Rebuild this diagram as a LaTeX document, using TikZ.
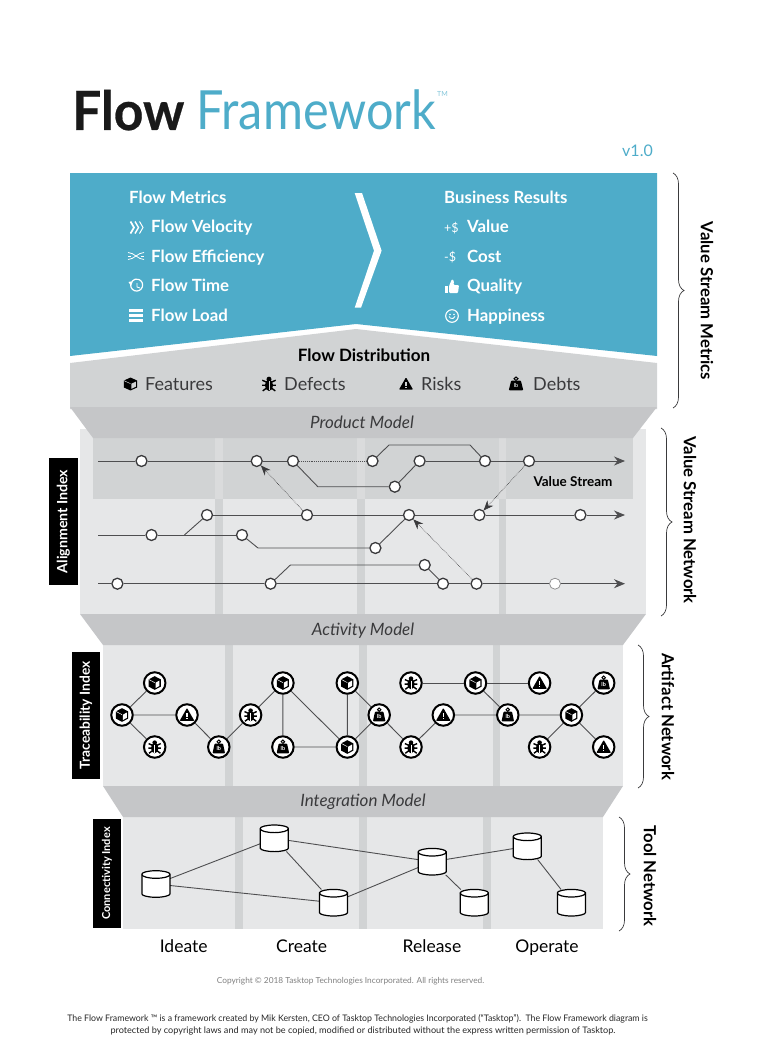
\documentclass[tikz,border=0pt]{standalone}
\usepackage{fontspec}
\setmainfont{Lato}
\newfontfamily\heavyfont[BoldFeatures={FakeBold=.5}]{Lato}
\usetikzlibrary{arrows.meta, decorations.pathreplacing}

\definecolor{flowblue}{HTML}{4EACC9}
\definecolor{panelgrey}{HTML}{D1D3D4}
\definecolor{modelgrey}{HTML}{C5C6C8}
\definecolor{lightgrey}{HTML}{E6E7E8}
\definecolor{inkgrey}{HTML}{3A3A3C}
\colorlet{iconback}{white}

\tikzset{
  % icons, all drawn round (0,0) in the current colour
  cubeicon/.pic={
    \fill (0,-7.2) -- (6.4,-3.8) -- (6.4,3.8) -- (0,7.2) -- (-6.4,3.8) -- (-6.4,-3.8) -- cycle;
    \fill[iconback] (0.9,-0.3) -- (5,-2.6) -- (5,3) -- (0.9,5.3) -- cycle;
    \draw[iconback, line width=.5pt] (-6.4,-3.8) -- (0,-0.4);
  },
  bugicon/.pic={
    \fill (0,1.2) ellipse (3.9 and 5.4);
    \fill (0,-4.6) circle (2.4);
    \draw[line width=1.4pt] (-6.4,-3.6) -- (-2,-1.6) (6.4,-3.6) -- (2,-1.6)
      (-6.6,1.2) -- (6.6,1.2) (-6,6.6) -- (-2,3.6) (6,6.6) -- (2,3.6);
    \draw[iconback, line width=.5pt] (0,-2.6) -- (0,6);
  },
  riskicon/.pic={
    \fill[rounded corners=.8pt] (0,-7.4) -- (7.8,6.2) -- (-7.8,6.2) -- cycle;
    \draw[iconback, line width=1.1pt] (0,-2) -- (0,2.2) (0,3.4) -- (0,4.6);
  },
  debticon/.pic={
    \draw[line width=1pt] (0,-5.6) circle (1.8);
    \fill[rounded corners=.8pt] (-4.4,-3.6) -- (4.4,-3.6) -- (6.6,6.6) -- (-6.6,6.6) -- cycle;
    \node[text=iconback, inner sep=0pt, font=\fontsize{5.5}{5.5}\selectfont\bfseries] (lbtext) at (0,1.8) {lb};
  },
  drumicon/.pic={
    \filldraw[fill=white, draw=black, line width=1.2pt, rounded corners=.5pt] (-14,-9.5)
      arc[start angle=180, end angle=360, x radius=14, y radius=3.8] -- (14,9.5)
      arc[start angle=0, end angle=180, x radius=14, y radius=3.8] -- cycle;
    \draw[black, line width=1.2pt] (14,-9.5) arc[start angle=0, end angle=180, x radius=14, y radius=3.8];
  },
  % nodes
  flownode/.style={circle, draw=inkgrey, fill=white, line width=1.3pt, minimum size=11pt, inner sep=0pt},
  artnode/.style={circle, draw=black, fill=white, line width=2pt, minimum size=21.5pt, inner sep=0pt},
  cubenode/.style={artnode, path picture={\pic[black, scale=.95] at (path picture bounding box.center) {cubeicon};}},
  bugnode/.style={artnode, path picture={\pic[black, scale=.95] at (path picture bounding box.center) {bugicon};}},
  risknode/.style={artnode, path picture={\pic[black, scale=.95] at (path picture bounding box.center) {riskicon};}},
  debtnode/.style={artnode, path picture={\pic[black, scale=.95] at (path picture bounding box.center) {debticon};}},
  toolnode/.style={rectangle, minimum width=28pt, minimum height=26pt, inner sep=0pt},
  % connectors
  wire/.style={draw=inkgrey!90, line width=.9pt},
  flowline/.style={wire, -{Stealth[length=11pt,width=9pt]}},
  dep/.style={draw=inkgrey, densely dotted, line width=.6pt, -{Stealth[length=10pt,width=8pt]}},
  bracket/.style={draw=inkgrey, line width=.7pt, decorate, decoration={brace, amplitude=11pt}},
  % text
  metrictext/.style={anchor=base west, inner sep=0pt, text=white, font=\fontsize{16.8}{16.8}\selectfont\bfseries},
  disttext/.style={anchor=base west, inner sep=0pt, text=inkgrey, font=\fontsize{18}{18}\selectfont},
  modeltext/.style={anchor=base, inner sep=0pt, text=inkgrey, font=\fontsize{17}{17}\selectfont\itshape},
  stagetext/.style={anchor=base, inner sep=0pt, text=black, font=\fontsize{17.5}{17.5}\selectfont},
  indexbox/.style={fill=black, text=white, rotate=90, inner sep=0pt, font=\bfseries},
  sidetext/.style={rotate=270, inner sep=0pt, text=black, font=\fontsize{16.7}{16.7}\selectfont\bfseries},
}

\begin{document}
\begin{tikzpicture}[x=1pt, y=-1pt]
  \useasboundingbox (0,0) rectangle (768,1062);

  % title
  \node[anchor=base west, inner sep=0pt, xscale=.955, text=black!90, font=\fontsize{54}{54}\selectfont\heavyfont\bfseries] at (72,130) (flowword) {Flow};
  \node[anchor=base west, inner sep=0pt, xscale=.9, text=flowblue, font=\fontsize{54}{54}\selectfont] at (196,130) (frameword) {Framework};
  \node[anchor=west, inner sep=0pt, text=flowblue!70, font=\fontsize{7}{7}\selectfont] at (437,94) (trademark) {TM};
  \node[anchor=base east, inner sep=0pt, text=flowblue, font=\fontsize{16}{16}\selectfont] at (653,156) (version) {v1.0};

  % panels
  \fill[flowblue] (70,173) -- (657,173) -- (657,356) -- (356,324) -- (70,356) -- cycle;
  \fill[white] (354.7,193) -- (362,193) -- (381.6,250.7) -- (361,307.7) -- (354.7,307.7) -- (374,250.7) -- cycle;
  \fill[panelgrey] (70,363) -- (356,329) -- (657,363) -- (657,409) -- (70,409) -- cycle;

  \fill[lightgrey] (80,429) rectangle (646,614);
  \fill[panelgrey] (215,499) rectangle (223,614);
  \fill[panelgrey] (357,499) rectangle (365,614);
  \fill[panelgrey] (499,499) rectangle (506,614);
  \fill[panelgrey] (93,438) rectangle (633,499);
  \fill[lightgrey!40!panelgrey] (215,438) rectangle (223,499);
  \fill[lightgrey!40!panelgrey] (357,438) rectangle (365,499);
  \fill[lightgrey!40!panelgrey] (499,438) rectangle (506,499);

  \fill[lightgrey] (103,645) rectangle (623,786);
  \fill[panelgrey] (225,645) rectangle (233,786);
  \fill[panelgrey] (359,645) rectangle (366.5,786);
  \fill[panelgrey] (493,645) rectangle (500,786);

  \fill[lightgrey] (123,817) rectangle (603,929);
  \fill[panelgrey] (235,817) rectangle (242.5,929);
  \fill[panelgrey] (359,817) rectangle (366.5,929);
  \fill[panelgrey] (482.5,817) rectangle (490.5,929);

  \fill[modelgrey] (70,407) -- (657,407) -- (633,438) -- (93,438) -- cycle;
  \fill[modelgrey] (80,614) -- (646,614) -- (623,645) -- (103,645) -- cycle;
  \fill[modelgrey] (103,786) -- (623,786) -- (603,817) -- (123,817) -- cycle;

  \node[modeltext] at (362,428.5) (productmodel) {Product Model};
  \node[modeltext] at (363,635) (activitymodel) {Activity Model};
  \node[modeltext] at (363,806.5) (integrationmodel) {Integration Model};

  % metrics
  \node[metrictext] at (129,203) (flowmetrics) {Flow Metrics};
  \node[metrictext] at (151,232.5) (flowvelocity) {Flow Velocity};
  \node[metrictext] at (151,262) (flowefficiency) {Flow Efficiency};
  \node[metrictext] at (151,291.5) (flowtime) {Flow Time};
  \node[metrictext] at (151,321) (flowload) {Flow Load};
  \node[metrictext] at (444,203) (businessresults) {Business Results};
  \node[metrictext] at (467,232.5) (value) {Value};
  \node[metrictext] at (467,262) (cost) {Cost};
  \node[metrictext] at (467,291.5) (quality) {Quality};
  \node[metrictext] at (467,321) (happiness) {Happiness};
  \node[metrictext, font=\fontsize{12.5}{12.5}\selectfont] at (444,232) (plusdollar) {+\$};
  \node[metrictext, font=\fontsize{12.5}{12.5}\selectfont] at (444,261.5) (minusdollar) {-\$};

  % metric icons
  \draw[white, line width=1.7pt] (130.5,221.5) -- (134,227.5) -- (130.5,233.5);
  \draw[white, line width=1.4pt] (135,221.5) -- (138.5,227.5) -- (135,233.5);
  \draw[white, line width=1pt] (139.5,221.5) -- (143,227.5) -- (139.5,233.5);
  \draw[white, line width=.8pt] (128,252.5) .. controls (134,252.5) and (138,259.5) .. (144,259.5);
  \draw[white, line width=.8pt] (128,259.5) .. controls (134,259.5) and (138,252.5) .. (144,252.5);
  \draw[white, line width=.8pt] (128,256) -- (131,256) (141,256) -- (144,256);
  \draw[white, line width=1.2pt] (131,283) arc[start angle=200, end angle=-140, radius=6];
  \draw[white, line width=.9pt] (137,283) -- (137,287) -- (140,288);
  \fill[white] (128.5,282) -- (133,281) -- (131,286) -- cycle;
  \fill[white] (129,309) rectangle (143,312.4);
  \fill[white] (129,313.8) rectangle (143,317.2);
  \fill[white] (129,318.6) rectangle (143,322);
  \fill[white] (444.5,286) rectangle (448,293);
  \fill[white, rounded corners=1pt] (449,286) -- (452,279) -- (454,281) -- (453.5,285) -- (459,285) -- (458,293) -- (449,293) -- cycle;
  \draw[white, line width=1.1pt] (452,316) circle (6.3);
  \fill[white] (450,314.5) circle (.9) (454,314.5) circle (.9);
  \draw[white, line width=.8pt] (449,316.5) arc[start angle=160, end angle=20, radius=3.2];

  % flow distribution
  \node[anchor=base, inner sep=0pt, text=black, font=\fontsize{17}{17}\selectfont\bfseries] at (364,361.5) (flowdistribution) {Flow Distribution};
  \node[disttext] at (145,390) (features) {Features};
  \node[disttext] at (284,390) (defects) {Defects};
  \node[disttext] at (421,390) (risks) {Risks};
  \node[disttext] at (533,390) (debts) {Debts};
  \begin{scope}
    \colorlet{iconback}{panelgrey}
    \pic[black, xscale=1.05, yscale=.9] at (130.5,384) {cubeicon};
    \pic[black, scale=1.05] at (269,384) {bugicon};
    \pic[black, scale=.9] at (406,384) {riskicon};
    \pic[black, xscale=1.1, yscale=.95] at (516,384) {debticon};
  \end{scope}

  % value stream network
  \coordinate (rowastart) at (98,461);
  \coordinate (rowaend) at (625,461);
  \node[flownode] at (141.5,461) (a1) {};
  \node[flownode] at (256.7,461) (a2) {};
  \node[flownode] at (293,461) (a3) {};
  \node[flownode] at (372.5,461) (a4) {};
  \node[flownode] at (419.6,461) (a5) {};
  \node[flownode] at (485,461) (a6) {};
  \node[flownode] at (529,461) (a7) {};
  \node[flownode] at (394.8,486.7) (a8) {};
  \draw[wire] (rowastart) -- (a1) -- (a2) -- (a3);
  \draw[wire, densely dotted, line width=.5pt] (a3) -- (a4);
  \draw[flowline] (a5) -- (a6) -- (a7) -- (rowaend);
  \coordinate (ka) at (317.8,486.7);
  \coordinate (kb) at (389,445);
  \coordinate (kc) at (470,445);
  \draw[wire] (a3) -- (ka) -- (a8) -- (a5);
  \draw[wire] (a4) -- (kb) -- (kc) -- (a6);

  \coordinate (rowbend) at (625,515);
  \coordinate (rowcstart) at (98,535);
  \coordinate (rowcsplit) at (184.4,535);
  \node[flownode] at (207,515) (b1) {};
  \node[flownode] at (307,515) (b2) {};
  \node[flownode] at (409,515) (b3) {};
  \node[flownode] at (479.4,515) (b4) {};
  \node[flownode] at (580.4,515) (b5) {};
  \node[flownode] at (151.5,535) (c1) {};
  \node[flownode] at (242,535) (c2) {};
  \node[flownode] at (375.4,548) (c3) {};
  \draw[flowline] (b1) -- (b2) -- (b3) -- (b4) -- (b5) -- (rowbend);
  \draw[wire] (rowcstart) -- (c1) -- (c2);
  \draw[wire] (rowcsplit) -- (b1);
  \coordinate (kd) at (258,548);
  \draw[wire] (c2) -- (kd) -- (c3) -- (b3);

  \coordinate (rowdstart) at (98,583.7);
  \coordinate (rowdend) at (625,583.7);
  \node[flownode] at (117.4,583.7) (d1) {};
  \node[flownode] at (270.6,583.7) (d2) {};
  \node[flownode] at (443,583.7) (d3) {};
  \node[flownode] at (476.5,583.7) (d4) {};
  \node[flownode, draw=inkgrey!60, line width=.7pt] at (555,583.7) (d5) {};
  \node[flownode] at (424.7,565) (d6) {};
  \draw[flowline] (rowdstart) -- (d1) -- (d2) -- (d3) -- (d4) -- (d5) -- (rowdend);
  \coordinate (ke) at (290.4,565);
  \draw[wire] (d2) -- (ke) -- (d6) -- (d3);

  \draw[dep] (b2) -- (a2);
  \draw[dep] (a7) -- (b4);
  \draw[dep] (d4) -- (b3);
  \node[anchor=base, inner sep=0pt, text=black, font=\fontsize{13.5}{13.5}\selectfont\bfseries] at (573,486.7) (valuestream) {Value Stream};

  % artifact network
  \node[cubenode] at (154.7,683) (art1) {};
  \node[cubenode] at (122,715) (art2) {};
  \node[bugnode] at (154.7,747) (art3) {};
  \node[risknode] at (187,715) (art4) {};
  \node[debtnode] at (218.8,747) (art5) {};
  \node[bugnode] at (250.6,715) (art6) {};
  \node[cubenode] at (282.9,683) (art7) {};
  \node[debtnode] at (282.9,747) (art8) {};
  \node[cubenode] at (347.3,683) (art9) {};
  \node[cubenode] at (347.3,747) (art10) {};
  \node[debtnode] at (379.2,715) (art11) {};
  \node[bugnode] at (411,747) (art12) {};
  \node[risknode] at (443.3,715) (art13) {};
  \node[bugnode] at (411,683) (art14) {};
  \node[cubenode] at (475.5,683) (art15) {};
  \node[risknode] at (539.6,683) (art16) {};
  \node[debtnode] at (507.8,715) (art17) {};
  \node[cubenode] at (571.4,715) (art18) {};
  \node[debtnode] at (603.7,683) (art19) {};
  \node[bugnode] at (539.6,747) (art20) {};
  \node[risknode] at (603.7,747) (art21) {};
  \draw[wire] (art1) -- (art2) -- (art4) -- (art5) -- (art6) -- (art7) -- (art8) -- (art10) -- (art9) -- (art11) -- (art12) -- (art13) -- (art17) -- (art18) -- (art19);
  \draw[wire] (art2) -- (art3);
  \draw[wire] (art7) -- (art10) -- (art11);
  \draw[wire] (art14) -- (art15) -- (art16);
  \draw[wire] (art15) -- (art17);
  \draw[wire] (art20) -- (art18) -- (art21);

  % tool network
  \node[toolnode] at (155.9,884) (tool1) {};
  \node[toolnode] at (274.3,838.3) (tool2) {};
  \node[toolnode] at (333.5,902.7) (tool3) {};
  \node[toolnode] at (432.2,861.7) (tool4) {};
  \node[toolnode] at (474.3,902.7) (tool5) {};
  \node[toolnode] at (527.3,846.3) (tool6) {};
  \node[toolnode] at (571.4,902.7) (tool7) {};
  \draw[wire] (tool3) -- (tool1) -- (tool2) -- (tool3) -- (tool4) -- (tool2);
  \draw[wire] (tool5) -- (tool4) -- (tool6) -- (tool7);
  \pic at (tool1) {drumicon};
  \pic at (tool2) {drumicon};
  \pic at (tool3) {drumicon};
  \pic at (tool4) {drumicon};
  \pic at (tool5) {drumicon};
  \pic at (tool6) {drumicon};
  \pic at (tool7) {drumicon};

  % index labels
  \node[indexbox, minimum width=127pt, minimum height=29pt, font=\fontsize{14.2}{14.2}\selectfont\bfseries] at (63.5,521.5) (alignmentindex) {Alignment Index};
  \node[indexbox, minimum width=127pt, minimum height=28pt, font=\fontsize{13.8}{13.8}\selectfont\bfseries] at (86,715.5) (traceabilityindex) {Traceability Index};
  \node[indexbox, minimum width=109pt, minimum height=28pt, font=\fontsize{11}{11}\selectfont\bfseries] at (107,873.5) (connectivityindex) {Connectivity Index};

  % braces
  \draw[bracket] (673,173) -- (673,408);
  \draw[bracket] (661,428) -- (661,616);
  \draw[bracket] (638,645) -- (638,788);
  \draw[bracket] (619,817) -- (619,931);
  \node[sidetext] at (707,301) (metricsname) {Value Stream Metrics};
  \node[sidetext] at (690,520) (networkname) {Value Stream Network};
  \node[sidetext] at (668,716.5) (artifactname) {Artifact Network};
  \node[sidetext] at (650,876) (toolname) {Tool Network};

  % stages
  \node[stagetext] at (183.7,952.7) (ideate) {Ideate};
  \node[stagetext] at (301.6,952.7) (create) {Create};
  \node[stagetext] at (432,952.7) (release) {Release};
  \node[stagetext] at (547,952.7) (operate) {Operate};

  % small print
  \node[anchor=base, inner sep=0pt, text=gray, font=\fontsize{8.3}{8.3}\selectfont] at (350.6,983) (copyright) {Copyright © 2018 Tasktop Technologies Incorporated. All rights reserved.};
  \node[anchor=base, inner sep=0pt, xscale=.975, text=black!85, font=\fontsize{9}{9}\selectfont] at (357.5,1021.7) (notice) {The Flow Framework ™ is a framework created by Mik Kersten, CEO of Tasktop Technologies Incorporated (“Tasktop”).\ \ The Flow Framework diagram is};
  \node[anchor=base, inner sep=0pt, xscale=1.014, text=black!85, font=\fontsize{9}{9}\selectfont] at (363,1033) (noticeb) {protected by copyright laws and may not be copied, modified or distributed without the express written permission of Tasktop.};
\end{tikzpicture}
\end{document}
